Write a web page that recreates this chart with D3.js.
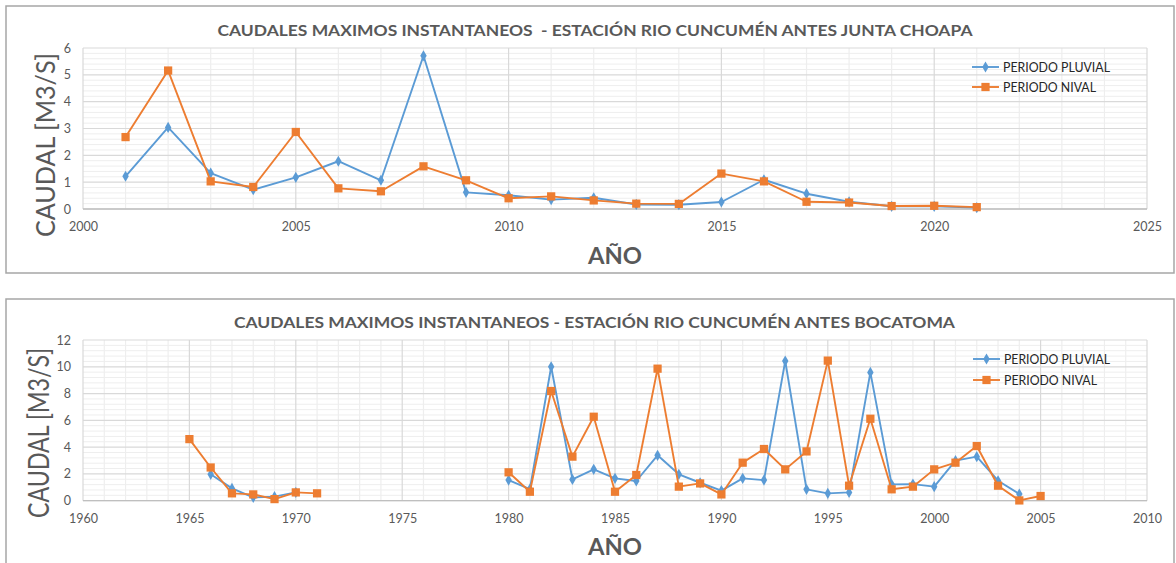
<!DOCTYPE html>
<html>
<head>
<meta charset="utf-8">
<script src="https://cdn.jsdelivr.net/npm/d3@7"></script>
<style>
  body { margin: 0; background: #fff; }
  text { font-family: Lato, "Liberation Sans", sans-serif; }
</style>
</head>
<body>
<svg id="chart" width="1176" height="563"></svg>
<script>
// Estación Río Cuncumén antes junta Choapa (2001–2021)
const yearsJunta = d3.range(2001, 2022);
const pluvialJunta = [1.22, 3.04, 1.34, 0.72, 1.18, 1.78, 1.07, 5.71, 0.62, 0.51, 0.35,
                      0.42, 0.17, 0.16, 0.26, 1.09, 0.57, 0.27, 0.10, 0.10, 0.05];
const nivalJunta   = [2.68, 5.16, 1.03, 0.82, 2.87, 0.77, 0.66, 1.59, 1.07, 0.40, 0.47,
                      0.32, 0.20, 0.19, 1.32, 1.03, 0.27, 0.24, 0.11, 0.12, 0.07];

// Estación Río Cuncumén antes bocatoma (1965–2005, sin registros 1972–1979)
const yearsBocatoma = d3.range(1965, 2006);
const pluvialBocatoma = [null, 1.97, 0.92, 0.25, 0.30, 0.62, null,
                         null, null, null, null, null, null, null, null,
                         1.54, 0.87, 10.0, 1.59, 2.34, 1.67, 1.47, 3.39, 1.97, 1.34,
                         0.75, 1.67, 1.54, 10.43, 0.85, 0.55, 0.62, 9.58, 1.22, 1.24,
                         1.05, 2.99, 3.29, 1.49, 0.50, null];
const nivalBocatoma = [4.60, 2.48, 0.55, 0.47, 0.12, 0.62, 0.55,
                       null, null, null, null, null, null, null, null,
                       2.12, 0.67, 8.19, 3.29, 6.27, 0.67, 1.92, 9.86, 1.05, 1.29,
                       0.47, 2.84, 3.86, 2.34, 3.68, 10.46, 1.12, 6.12, 0.85, 1.05,
                       2.34, 2.84, 4.08, 1.12, 0.02, 0.35];

const xTicksJunta = [2000, 2005, 2010, 2015, 2020, 2025];
const yTicksJunta = [0, 1, 2, 3, 4, 5, 6];
const xTicksBocatoma = [1960, 1965, 1970, 1975, 1980, 1985, 1990, 1995, 2000, 2005, 2010];
const yTicksBocatoma = [0, 2, 4, 6, 8, 10, 12];

const seriesNames = ["PERIODO PLUVIAL", "PERIODO NIVAL"];
const titleJunta = "CAUDALES MAXIMOS INSTANTANEOS  - ESTACIÓN RIO CUNCUMÉN ANTES JUNTA CHOAPA";
const titleBocatoma = "CAUDALES MAXIMOS INSTANTANEOS - ESTACIÓN RIO CUNCUMÉN ANTES BOCATOMA";
const yLabel = "CAUDAL [M3/S]";
const xLabel = "AÑO";

const BLUE = "#5B9BD5", ORANGE = "#ED7D31", TEXT = "#595959";
const svg = d3.select("#chart");

// stretch or squeeze a text element horizontally to width `w`
function fitWidth(sel, w) {
  return sel.attr("textLength", w).attr("lengthAdjust", "spacingAndGlyphs");
}

function drawChart(cfg) {
  const g = svg.append("g");

  // outer frame
  g.append("rect")
    .attr("x", cfg.box[0]).attr("y", cfg.box[1])
    .attr("width", cfg.box[2]).attr("height", cfg.box[3])
    .attr("fill", "#fff").attr("stroke", "#a6a6a6").attr("stroke-width", 1.5);

  const x = d3.scaleLinear().domain(cfg.xDomain).range([cfg.plot.left, cfg.plot.right]);
  const y = d3.scaleLinear().domain(cfg.yDomain).range([cfg.plot.bottom, cfg.plot.top]);

  // minor gridlines
  const minorX = d3.range(cfg.xDomain[0], cfg.xDomain[1] + 0.5, 1).filter(v => v % 5 !== 0);
  const minorY = d3.range(cfg.yDomain[0], cfg.yDomain[1] + 1e-6, cfg.yMinor)
    .filter(v => Math.abs(v / cfg.yMajor - Math.round(v / cfg.yMajor)) > 1e-6);
  g.append("g").selectAll("line").data(minorY).join("line")
    .attr("x1", cfg.plot.left).attr("x2", cfg.plot.right)
    .attr("y1", d => y(d)).attr("y2", d => y(d))
    .attr("stroke", "#eeeeee").attr("stroke-width", 1);
  g.append("g").selectAll("line").data(minorX).join("line")
    .attr("y1", cfg.plot.top).attr("y2", cfg.plot.bottom)
    .attr("x1", d => x(d)).attr("x2", d => x(d))
    .attr("stroke", "#eeeeee").attr("stroke-width", 1.2);

  // major gridlines
  g.append("g").selectAll("line").data(cfg.yTicks).join("line")
    .attr("x1", cfg.plot.left).attr("x2", cfg.plot.right)
    .attr("y1", d => y(d)).attr("y2", d => y(d))
    .attr("stroke", "#d9d9d9").attr("stroke-width", 1.2);
  g.append("g").selectAll("line").data(cfg.xTicks).join("line")
    .attr("y1", cfg.plot.top).attr("y2", cfg.plot.bottom)
    .attr("x1", d => x(d)).attr("x2", d => x(d))
    .attr("stroke", "#d9d9d9").attr("stroke-width", 1.2);

  // x axis baseline
  g.append("line")
    .attr("x1", cfg.plot.left).attr("x2", cfg.plot.right)
    .attr("y1", y(0)).attr("y2", y(0))
    .attr("stroke", "#bfbfbf").attr("stroke-width", 1.3);

  // tick labels via d3 axes
  const xAxis = g.append("g")
    .attr("transform", `translate(0,${cfg.plot.bottom})`)
    .call(d3.axisBottom(x).tickValues(cfg.xTicks).tickFormat(d3.format("d")).tickSize(0).tickPadding(13));
  xAxis.select(".domain").remove();
  xAxis.selectAll("text").attr("fill", TEXT).attr("font-size", 12.5).attr("font-family", "Lato, sans-serif");

  const yAxis = g.append("g")
    .attr("transform", `translate(${cfg.plot.left},0)`)
    .call(d3.axisLeft(y).tickValues(cfg.yTicks).tickFormat(d3.format("d")).tickSize(0).tickPadding(12));
  yAxis.select(".domain").remove();
  yAxis.selectAll("text").attr("fill", TEXT).attr("font-size", 12.5).attr("font-family", "Lato, sans-serif");

  // series
  const series = [
    { name: seriesNames[0], values: cfg.pluvial, color: BLUE, shape: d3.symbolDiamond, size: 36 },
    { name: seriesNames[1], values: cfg.nival, color: ORANGE, shape: d3.symbolSquare, size: 68 }
  ];
  const line = d3.line()
    .defined(d => d.v != null)
    .x(d => x(d.yr)).y(d => y(d.v));

  series.forEach(s => {
    const pts = cfg.years.map((yr, i) => ({ yr, v: s.values[i] }));
    g.append("path").datum(pts)
      .attr("d", line).attr("fill", "none")
      .attr("stroke", s.color).attr("stroke-width", 1.9).attr("stroke-linejoin", "round");
    g.append("g").selectAll("path").data(pts.filter(d => d.v != null)).join("path")
      .attr("transform", d => `translate(${x(d.yr)},${y(d.v)})`)
      .attr("d", d3.symbol().type(s.shape).size(s.size))
      .attr("fill", s.color);
  });

  // legend
  series.forEach((s, i) => {
    const ly = cfg.legend[1] + i * cfg.legend[2];
    const lx = cfg.legend[0];
    g.append("line").attr("x1", lx).attr("x2", lx + 27).attr("y1", ly).attr("y2", ly)
      .attr("stroke", s.color).attr("stroke-width", 1.9);
    g.append("path").attr("transform", `translate(${lx + 13.5},${ly})`)
      .attr("d", d3.symbol().type(s.shape).size(s.size)).attr("fill", s.color);
    const t = g.append("text").attr("x", lx + 31).attr("y", ly + 4.8)
      .attr("font-size", 13).attr("fill", "#262626").text(s.name);
    fitWidth(t, cfg.legendW[i]);
  });

  // titles
  const tt = g.append("text").attr("x", cfg.title[0]).attr("y", cfg.title[1])
    .attr("text-anchor", "middle").attr("font-weight", "bold")
    .attr("font-size", 15.5).attr("fill", TEXT).attr("xml:space", "preserve").text(cfg.titleText);
  fitWidth(tt, cfg.title[2]);

  const yt = g.append("text")
    .attr("transform", `translate(${cfg.yTitle[0]},${cfg.yTitle[1]}) rotate(-90)`)
    .attr("text-anchor", "middle").attr("font-size", cfg.yTitle[3]).attr("fill", TEXT).text(yLabel);
  fitWidth(yt, cfg.yTitle[2]);

  const xt = g.append("text").attr("x", cfg.xTitle[0]).attr("y", cfg.xTitle[1])
    .attr("text-anchor", "middle").attr("font-weight", "bold")
    .attr("font-size", 23.5).attr("fill", TEXT).text(xLabel);
  fitWidth(xt, cfg.xTitle[2]);
}

drawChart({
  box: [6, 6, 1168, 267],
  plot: { left: 83, right: 1147, top: 48, bottom: 209 },
  xDomain: [2000, 2025], yDomain: [0, 6],
  xTicks: xTicksJunta, yTicks: yTicksJunta, yMajor: 1, yMinor: 0.2,
  years: yearsJunta, pluvial: pluvialJunta, nival: nivalJunta,
  legend: [972, 67, 20], legendW: [107, 93],
  title: [595, 36, 755], titleText: titleJunta,
  yTitle: [55, 145, 184, 27.5],
  xTitle: [615, 264, 54]
});

drawChart({
  box: [6, 299, 1168, 280],
  plot: { left: 83, right: 1147, top: 340, bottom: 500.7 },
  xDomain: [1960, 2010], yDomain: [0, 12],
  xTicks: xTicksBocatoma, yTicks: yTicksBocatoma, yMajor: 2, yMinor: 0.4,
  years: yearsBocatoma, pluvial: pluvialBocatoma, nival: nivalBocatoma,
  legend: [973, 359, 21], legendW: [106, 93],
  title: [594.5, 328, 721], titleText: titleBocatoma,
  yTitle: [49, 433, 170, 29],
  xTitle: [615, 555, 54]
});
</script>
</body>
</html>
